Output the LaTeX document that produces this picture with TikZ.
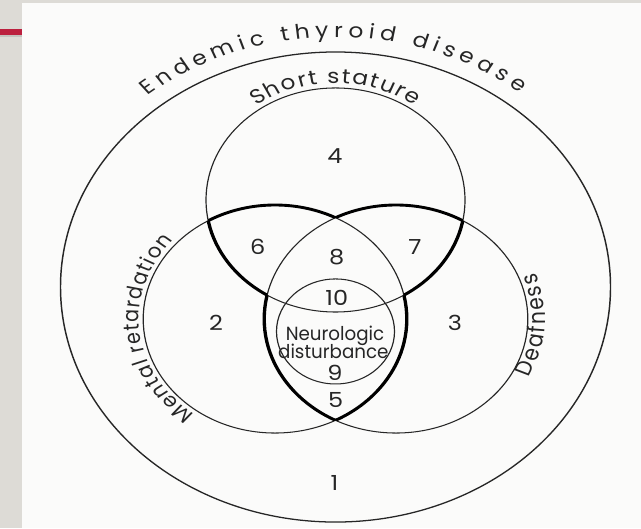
\documentclass[tikz,border=0pt]{standalone}
\usepackage{fontspec}
\setmainfont{Poppins}
\usetikzlibrary{decorations.text}
\definecolor{pagegray}{RGB}{221,219,214}
\definecolor{pagewhite}{RGB}{251,251,250}
\definecolor{slidered}{RGB}{188,32,62}
\definecolor{shadowgray}{RGB}{196,194,190}
\newcommand{\curvefont}{\fontsize{17.5}{17.5}\selectfont}
\newcommand{\sidefont}{\fontsize{16.5}{16.5}\selectfont}
\tikzset{
  thinline/.style={line width=0.9pt, black!85},
  outerline/.style={line width=1.1pt, black!85},
  thickline/.style={line width=2.5pt, black},
  numlbl/.style={font=\fontsize{18}{18}\selectfont, inner sep=0pt, text=black!85},
  neurolbl/.style={font=\fontsize{16.5}{16.5}\selectfont, inner sep=0pt, anchor=base, text=black!85, transform shape, xscale=0.83},
  curvetext/.style={decorate, decoration={text along path, text align={fit to path}, text color=black!85, text={#1}}}
}
\begin{document}
\begin{tikzpicture}[x=0.75pt,y=0.75pt]
\useasboundingbox (0,0) rectangle (641,-528);
\fill[pagewhite] (0,0) rectangle (641,-528);
\fill[pagegray] (0,0) rectangle (22,-528);
\fill[pagegray] (0,0) rectangle (641,-3);
\fill[shadowgray] (0,-35) rectangle (22,-37.5);
\fill[slidered] (0,-29) rectangle (22,-35);
\begin{scope}[transform canvas={yscale=0.865}]
  % centres (unsquished frame)
  \coordinate (cO) at (335.5,-331.8);
  \coordinate (cT) at (335.5,-231.2);
  \coordinate (cL) at (275,-368.8);
  \coordinate (cR) at (396,-368.8);
  \coordinate (cN) at (335.5,-383.2);
  % thin circles
  \draw[outerline] (cO) ellipse [x radius=275, y radius=271.7];
  \draw[thinline] (cT) circle [radius=129.5];
  \draw[thinline] (cL) circle [radius=131.8];
  \draw[thinline] (cR) circle [radius=131.8];
  \draw[thinline] (cN) ellipse [x radius=59, y radius=60.7];
  % thick outline: boundary of the region inside at least two circles
  \begin{scope}[even odd rule]
    \clip (cL) circle [radius=131.8] (cR) circle [radius=131.8];
    \draw[thickline] (cT) circle [radius=129.5];
  \end{scope}
  \begin{scope}[even odd rule]
    \clip (cT) circle [radius=129.5] (cR) circle [radius=131.8];
    \draw[thickline] (cL) circle [radius=131.8];
  \end{scope}
  \begin{scope}[even odd rule]
    \clip (cT) circle [radius=129.5] (cL) circle [radius=131.8];
    \draw[thickline] (cR) circle [radius=131.8];
  \end{scope}
  % curved labels
  \path[curvetext={|\curvefont|Endemic thyroid disease}]
    (cO) ++(130:292 and 289) arc [start angle=130, end angle=51, x radius=292, y radius=289];
  \path[curvetext={|\curvefont|Short stature}]
    (cT) ++(126:135) arc [start angle=126, end angle=54, radius=135];
  \path[curvetext={|\sidefont|Mental retardation}]
    (cL) ++(234:136) arc [start angle=234, end angle=138, radius=136];
  \path[curvetext={|\curvefont|Deafness}]
    (cR) ++(-27:149) arc [start angle=-27, end angle=21, radius=149];
  % region numbers
  \node[numlbl] (n1) at (334.4,-558.4) {1};
  \node[numlbl] (n2) at (216,-373.8) {2};
  \node[numlbl] (n3) at (455,-373.8) {3};
  \node[numlbl] (n4) at (335,-181) {4};
  \node[numlbl] (n5) at (335.7,-462.4) {5};
  \node[numlbl] (n6) at (257.7,-285.2) {6};
  \node[numlbl] (n7) at (415,-285.2) {7};
  \node[numlbl] (n8) at (336.7,-296.8) {8};
  \node[numlbl] (n9) at (335,-430.9) {9};
  \node[numlbl] (n10) at (336.7,-344.9) {10};
  \node[neurolbl] (neuroA) at (335,-393.8) {Neurologic};
  \node[neurolbl] (neuroB) at (333.3,-414.3) {disturbance};
\end{scope}
\end{tikzpicture}
\end{document}
